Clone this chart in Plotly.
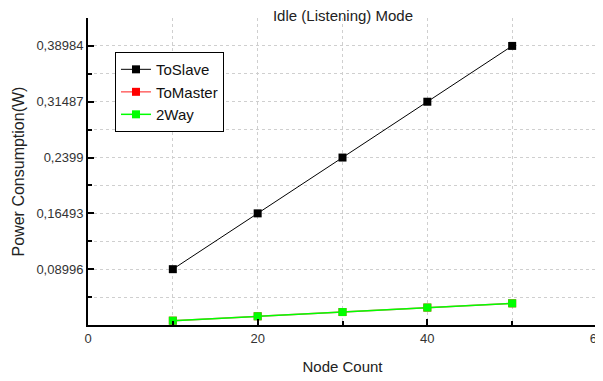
import plotly.graph_objects as go

node_count = [10, 20, 30, 40, 50]
to_slave = [0.08996, 0.16493, 0.2399, 0.31487, 0.38984]
to_master = [0.0208, 0.0267, 0.0324, 0.0384, 0.0441]
two_way = [0.0208, 0.0267, 0.0324, 0.0384, 0.0441]

y_tick_vals = [0.08996, 0.16493, 0.2399, 0.31487, 0.38984]
y_tick_text = ["0,08996", "0,16493", "0,2399", "0,31487", "0,38984"]
x_tick_vals = [0, 20, 40, 60]
x_minor_vals = [10, 30, 50]

step = y_tick_vals[1] - y_tick_vals[0]
y_min = y_tick_vals[0] - step
y_max = y_tick_vals[-1] + step / 2
y_minor_vals = [v - step / 2 for v in y_tick_vals] + [y_tick_vals[-1] + step / 2]

font_family = "Liberation Sans, Arial, sans-serif"
grid_col = "#cfcfcf"

fig = go.Figure()
fig.add_trace(go.Scatter(x=node_count, y=to_slave, name="ToSlave", mode="lines+markers",
                         line=dict(color="#000000", width=1),
                         marker=dict(symbol="square", size=8, color="#000000")))
fig.add_trace(go.Scatter(x=node_count, y=to_master, name="ToMaster", mode="lines+markers",
                         line=dict(color="#ff6666", width=1.5),
                         marker=dict(symbol="square", size=8, color="#ff0000")))
fig.add_trace(go.Scatter(x=node_count, y=two_way, name="2Way", mode="lines+markers",
                         line=dict(color="#00ff00", width=1.5),
                         marker=dict(symbol="square", size=8, color="#00ff00")))

fig.update_layout(
    width=595, height=373,
    margin=dict(l=80, r=6, t=10, b=56),
    paper_bgcolor="white", plot_bgcolor="white",
    font=dict(family=font_family, size=13, color="#222222"),
    title=dict(text="Idle (Listening) Mode", x=0.563, xanchor="center", y=0.978, yanchor="middle",
               font=dict(size=15, color="#222222")),
    showlegend=True,
    legend=dict(x=0.053, y=0.889, xanchor="left", yanchor="top",
                bgcolor="white", bordercolor="#000000", borderwidth=1,
                font=dict(size=15, color="#111111"), tracegroupgap=0,
                itemwidth=30),
    xaxis=dict(
        range=[0, 60.0001], tickmode="array", tickvals=x_tick_vals, automargin=False,
        ticklabeloverflow="allow",
        ticks="inside", ticklen=6, tickwidth=2, tickcolor="#000000",
        showline=True, linecolor="#000000", linewidth=2,
        showgrid=True, gridcolor=grid_col, griddash="dot", gridwidth=1,
        zeroline=False,
        minor=dict(tickmode="array", tickvals=x_minor_vals, ticks="inside", ticklen=4,
                   tickwidth=2, tickcolor="#000000", showgrid=True,
                   gridcolor=grid_col, griddash="dot", gridwidth=1),
        title=dict(text="Node Count", font=dict(size=15, color="#222222"), standoff=17),
        tickfont=dict(size=13, color="#333333"),
    ),
    yaxis=dict(
        range=[y_min, y_max], tickmode="array", tickvals=y_tick_vals, ticktext=y_tick_text,
        automargin=False,
        ticks="inside", ticklen=6, tickwidth=2, tickcolor="#000000",
        showline=True, linecolor="#000000", linewidth=2,
        showgrid=True, gridcolor=grid_col, griddash="dot", gridwidth=1,
        zeroline=False,
        minor=dict(tickmode="array", tickvals=y_minor_vals, ticks="inside", ticklen=4,
                   tickwidth=2, tickcolor="#000000", showgrid=True,
                   gridcolor=grid_col, griddash="dot", gridwidth=1),
        title=dict(text="Power Consumption(W)", font=dict(size=16, color="#222222"), standoff=8),
        tickfont=dict(size=13, color="#333333"),
    ),
)

fig.write_html("out.html")
